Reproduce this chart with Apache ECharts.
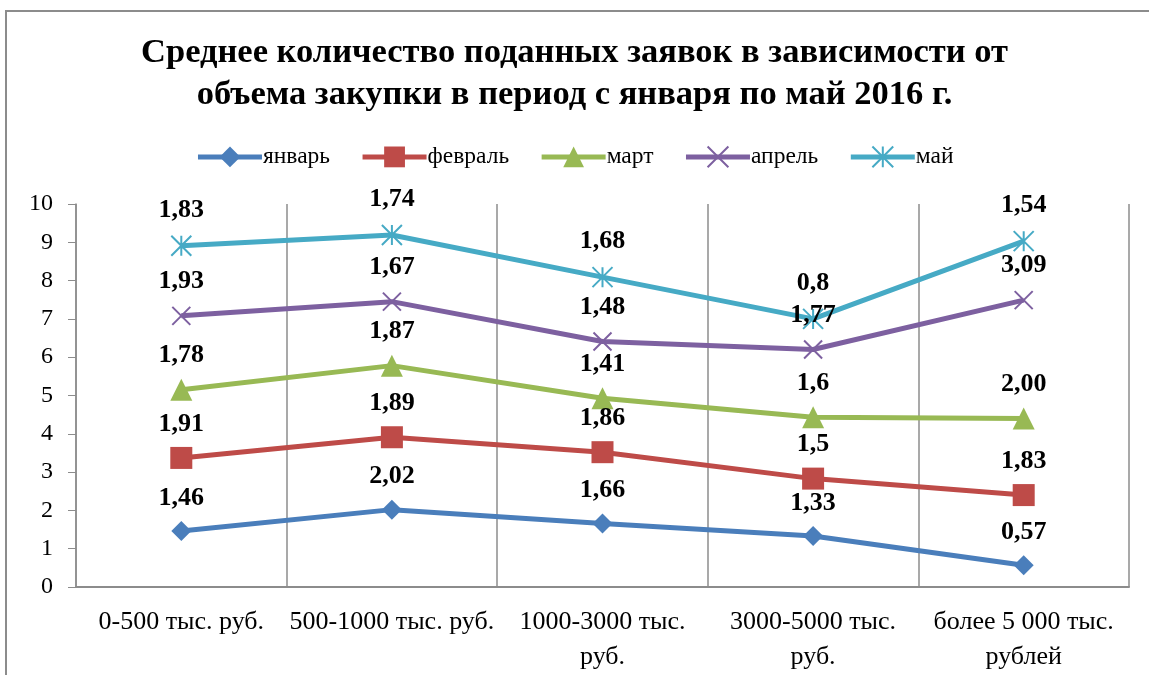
<!DOCTYPE html>
<html>
<head>
<meta charset="utf-8">
<script src="https://cdn.jsdelivr.net/npm/echarts@6/dist/echarts.min.js"></script>
<style>
    html,body{
        margin: 0;
        padding: 0;
        background: #fff;
        overflow: hidden;
    }
    #frame{
        position: absolute;
        left: 5px;
        top: 10px;
        width: 1160px;
        height: 680px;
        border: solid 2px #8c8c8c;
        box-sizing: border-box;
    }
    #chart{
        position: absolute;
        left: 0;
        top: 0;
        width: 1149px;
        height: 675px;
    }
</style>
</head>
<body>
<div id="frame"></div>
<div id="chart"></div>
<script>
var categories = ['0-500 тыс. руб.', '500-1000 тыс. руб.', '1000-3000 тыс.\nруб.', '3000-5000 тыс.\nруб.', 'более 5 000 тыс.\nрублей'];
var yTicks = [0, 10, 1];

var jan = [1.46, 2.02, 1.66, 1.33, 0.57];
var feb = [1.91, 1.89, 1.86, 1.5, 1.83];
var mar = [1.78, 1.87, 1.41, 1.6, 2.00];
var apr = [1.93, 1.67, 1.48, 1.77, 3.09];
var may = [1.83, 1.74, 1.68, 0.8, 1.54];

var janLabels = ['1,46', '2,02', '1,66', '1,33', '0,57'];
var febLabels = ['1,91', '1,89', '1,86', '1,5', '1,83'];
var marLabels = ['1,78', '1,87', '1,41', '1,6', '2,00'];
var aprLabels = ['1,93', '1,67', '1,48', '1,77', '3,09'];
var mayLabels = ['1,83', '1,74', '1,68', '0,8', '1,54'];

var font = '"Liberation Serif", "Times New Roman", serif';

function makeSeries(name, data, labels, color, symbol, size, stroke){
    return {
        name: name,
        type: 'line',
        stack: 'total',
        data: data,
        symbol: symbol,
        symbolSize: size,
        lineStyle: {color: color, width: 5},
        itemStyle: stroke ? {color: 'none', borderColor: color, borderWidth: 2} : {color: color, borderWidth: 0},
        label: {
            show: true,
            position: 'top',
            distance: 10,
            color: '#000',
            fontFamily: font,
            fontWeight: 'bold',
            fontSize: 26,
            formatter: function(p){ return labels[p.dataIndex]; }
        },
        emphasis: {disabled: true},
        animation: false
    };
}

var xPath = 'path://M0,0L10,10M10,0L0,10';
var starPath = 'path://M0,0L10,10M10,0L0,10M5,0L5,10';

var option = {
    title: {
        text: 'Среднее количество поданных заявок в зависимости от\nобъема закупки в период с января по май 2016 г.',
        left: 'center',
        top: 27,
        textStyle: {
            fontFamily: font,
            fontWeight: 'bold',
            fontSize: 34.5,
            lineHeight: 42,
            color: '#000'
        }
    },
    legend: {
        top: 139,
        left: 'center',
        itemWidth: 64,
        itemHeight: 26,
        itemGap: 30,
        lineStyle: {width: 5},
        textStyle: {fontFamily: font, fontSize: 23.5, color: '#000', padding: [0, 0, 0, -4]},
        data: ['январь', 'февраль', 'март', 'апрель', 'май']
    },
    grid: {
        left: 76,
        right: 20,
        top: 204,
        bottom: 88,
        outerBoundsMode: 'none'
    },
    xAxis: {
        type: 'category',
        boundaryGap: true,
        data: categories,
        axisLine: {lineStyle: {color: '#8c8c8c', width: 2}},
        axisTick: {show: false},
        splitLine: {show: true, lineStyle: {color: '#8c8c8c', width: 1.5}},
        axisLabel: {
            fontFamily: font,
            fontSize: 26,
            color: '#000',
            lineHeight: 35,
            margin: 18,
            interval: 0
        }
    },
    yAxis: {
        type: 'value',
        min: yTicks[0],
        max: yTicks[1],
        interval: yTicks[2],
        axisLine: {show: true, lineStyle: {color: '#8c8c8c', width: 1.5}},
        axisTick: {show: true, inside: false, length: 8, lineStyle: {color: '#8c8c8c'}},
        splitLine: {show: false},
        axisLabel: {
            fontFamily: font,
            fontSize: 24,
            color: '#000',
            margin: 23
        }
    },
    series: [
        makeSeries('январь', jan, janLabels, '#4A7EBB', 'diamond', 20, false),
        makeSeries('февраль', feb, febLabels, '#BE4B48', 'rect', 22, false),
        makeSeries('март', mar, marLabels, '#98B954', 'triangle', 22, false),
        makeSeries('апрель', apr, aprLabels, '#7D60A0', xPath, 18, true),
        makeSeries('май', may, mayLabels, '#46AAC5', starPath, 20, true)
    ]
};

var myChart = echarts.init(document.getElementById('chart'));
myChart.setOption(option);
</script>
</body>
</html>
